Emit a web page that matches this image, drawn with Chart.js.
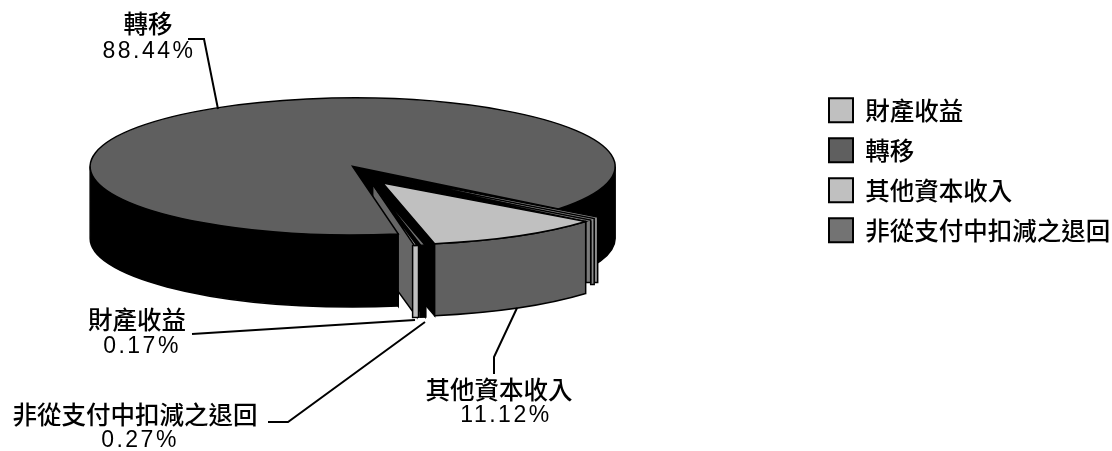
<!DOCTYPE html>
<html>
<head>
<meta charset="utf-8">
<style>
  html, body { margin: 0; padding: 0; background: #fff; overflow: hidden; }
  #wrap { position: relative; width: 1112px; height: 451px; }
</style>
<script src="https://cdn.jsdelivr.net/npm/chart.js@4"></script>
</head>
<body>
<div id="wrap"><canvas id="pie3d"></canvas></div>
<script>
// Revenue shares, in percent
const categories = ['財產收益', '轉移', '其他資本收入', '非從支付中扣減之退回'];
const shareValues = [0.17, 88.44, 11.12, 0.27];

// Slice colours: top face, outer wall, radial walls
const topColors = ['#c0c0c0', '#5f5f5f', '#c0c0c0', '#737373'];
const wallColors = ['#c0c0c0', '#000000', '#606060', '#000000'];
const cutColors = ['#666666', '#000000', '#000000', '#000000'];

// Projection of the flat pie on the page
const CENTER_X = 367.5, CENTER_Y = 174.8;
const EXPLODE_X = 29, EXPLODE_Y = 9.7;
const DEPTH = 72;
const MIN_RIM = 6;
const radiusX = [240, 262.5, 259, 259];
const radiusY = [62, 68.5, 62, 62];

const LATIN = '"Liberation Sans", Arial, sans-serif';
const CJK = '"Noto Sans CJK TC", sans-serif';
const LEGEND_BOX_X = 829;

// Text blocks and leader lines: [name x, name y, value x, value y], then the polyline
const callouts = [
    { index: 1, at: [148, 24, 149, 52], line: [[188, 39], [204, 39], [218, 109]] },
    { index: 0, at: [137, 320, 142, 347], line: [[192, 334], [415, 320]] },
    { index: 3, at: [135, 415, 140, 441], line: [[268, 422], [288, 422], [425, 322]] },
    { index: 2, at: [499, 390, 506, 416], line: [[494, 374], [494, 357], [517, 308]] }
];

function sliceGeometry(el, i) {
    const mid = (el.startAngle + el.endAngle) / 2;
    return {
        cx: CENTER_X + EXPLODE_X * Math.cos(mid),
        cy: CENTER_Y + EXPLODE_Y * Math.sin(mid),
        rx: radiusX[i],
        ry: radiusY[i],
        a0: el.startAngle,
        a1: el.endAngle
    };
}

function rimPoint(g, a) {
    return [g.cx + g.rx * Math.cos(a), g.cy + g.ry * Math.sin(a)];
}

// Radial cut wall, from the apex out to the rim at angle a
function drawCut(ctx, g, a, color) {
    const p = rimPoint(g, a);
    ctx.beginPath();
    ctx.moveTo(g.cx, g.cy);
    ctx.lineTo(p[0], p[1]);
    ctx.lineTo(p[0], p[1] + DEPTH);
    ctx.lineTo(g.cx, g.cy + DEPTH);
    ctx.closePath();
    ctx.fillStyle = color;
    ctx.fill();
    ctx.stroke();
}

// Outer wall, only for the part of the rim facing the viewer.
// Very thin slices keep a minimum rim width so they stay visible.
function drawWall(ctx, g, color) {
    const pad = Math.max(0, MIN_RIM / g.rx - (g.a1 - g.a0)) / 2;
    const a0 = g.a0 - pad, a1 = g.a1 + pad;
    for (let k = 0; k < 2; k++) {
        const from = Math.max(a0, k * 2 * Math.PI);
        const to = Math.min(a1, k * 2 * Math.PI + Math.PI);
        if (to <= from) continue;
        ctx.beginPath();
        ctx.ellipse(g.cx, g.cy, g.rx, g.ry, 0, from, to);
        ctx.ellipse(g.cx, g.cy + DEPTH, g.rx, g.ry, 0, to, from, true);
        ctx.closePath();
        ctx.fillStyle = color;
        ctx.fill();
        ctx.stroke();
    }
}

// Top face: the library arc under a squashing transform, outline added afterwards
function drawTop(ctx, chart, el, g) {
    const r = el.outerRadius;
    ctx.save();
    ctx.translate(g.cx, g.cy);
    ctx.scale(g.rx / r, g.ry / r);
    ctx.translate(-el.x, -el.y);
    el.draw(ctx, chart.chartArea);
    ctx.restore();
    ctx.beginPath();
    ctx.moveTo(g.cx, g.cy);
    ctx.ellipse(g.cx, g.cy, g.rx, g.ry, 0, g.a0, g.a1);
    ctx.closePath();
    ctx.stroke();
}

// Thin sheets standing behind the right edge of the capital slice
function drawSheets(ctx, g) {
    const p = rimPoint(g, g.a0);
    const widths = [5, 3.5, 3.5];
    const fills = ['#7a7a7a', '#8c8c8c', '#8c8c8c'];
    const drops = [11, 9, 11];
    for (let i = widths.length - 1; i >= 0; i--) {
        const left = p[0] + widths.slice(0, i).reduce((s, w) => s + w, 0);
        const lift = 1.5 * (i + 1);
        ctx.beginPath();
        ctx.moveTo(g.cx + 3 + 2 * i, g.cy - 2 - lift);
        ctx.lineTo(left + widths[i], p[1] - lift);
        ctx.lineTo(left + widths[i], p[1] + DEPTH - drops[i]);
        ctx.lineTo(left, p[1] + DEPTH - drops[i]);
        ctx.lineTo(left, p[1]);
        ctx.closePath();
        ctx.fillStyle = fills[i];
        ctx.fill();
        ctx.stroke();
    }
}

const pie3d = {
    id: 'pie3d',
    beforeDraw(chart) {
        // pin the legend column, its labels run close to the page edge
        chart.legend.left = LEGEND_BOX_X - chart.legend.options.labels.padding;
    },
    beforeDatasetsDraw(chart) {
        const ctx = chart.ctx;
        const arcs = chart.getDatasetMeta(0).data;
        const geo = arcs.map((el, i) => sliceGeometry(el, i));

        ctx.save();
        ctx.strokeStyle = '#000';
        ctx.lineWidth = 1.5;
        ctx.lineJoin = 'miter';

        // back to front: every radial cut first, then the big slice, then the small ones
        drawCut(ctx, geo[1], geo[1].a1, cutColors[1]);
        drawCut(ctx, geo[1], geo[1].a0, cutColors[1]);
        drawCut(ctx, geo[2], geo[2].a1, cutColors[2]);
        drawCut(ctx, geo[3], geo[3].a0, cutColors[3]);
        drawCut(ctx, geo[0], geo[0].a0, cutColors[0]);
        drawWall(ctx, geo[1], wallColors[1]);
        drawTop(ctx, chart, arcs[1], geo[1]);

        drawWall(ctx, geo[3], wallColors[3]);
        drawTop(ctx, chart, arcs[3], geo[3]);
        drawWall(ctx, geo[0], wallColors[0]);
        drawTop(ctx, chart, arcs[0], geo[0]);

        drawSheets(ctx, geo[2]);
        drawWall(ctx, geo[2], wallColors[2]);
        drawTop(ctx, chart, arcs[2], geo[2]);
        ctx.restore();
        return false;
    },
    afterDraw(chart) {
        const ctx = chart.ctx;
        ctx.save();
        ctx.strokeStyle = '#000';
        ctx.lineWidth = 2;
        ctx.fillStyle = '#000';
        ctx.textAlign = 'center';
        ctx.textBaseline = 'middle';
        callouts.forEach(c => {
            ctx.beginPath();
            c.line.forEach((p, i) => i ? ctx.lineTo(p[0], p[1]) : ctx.moveTo(p[0], p[1]));
            ctx.stroke();
            ctx.letterSpacing = '0px';
            ctx.font = '500 24.5px ' + CJK;
            ctx.fillText(categories[c.index], c.at[0], c.at[1]);
            ctx.letterSpacing = '2.5px';
            ctx.font = '23px ' + LATIN;
            ctx.fillText(shareValues[c.index].toFixed(2) + '%', c.at[2], c.at[3]);
        });
        ctx.restore();
    }
};

new Chart(document.getElementById('pie3d'), {
    type: 'pie',
    data: {
        labels: categories,
        datasets: [{
            data: shareValues,
            backgroundColor: topColors,
            borderWidth: 0
        }]
    },
    plugins: [pie3d],
    options: {
        responsive: true,
        maintainAspectRatio: false,
        animation: false,
        rotation: 169.4,
        layout: { padding: { top: 82.5, right: 2 } },
        plugins: {
            tooltip: { enabled: false },
            legend: {
                position: 'right',
                align: 'start',
                labels: {
                    boxWidth: 24,
                    boxHeight: 24,
                    padding: 15.5,
                    color: '#000',
                    font: { family: CJK, size: 24.5, weight: '500' },
                    generateLabels(chart) {
                        const items = Chart.overrides.pie.plugins.legend.labels.generateLabels(chart);
                        items.forEach(it => {
                            it.strokeStyle = '#000';
                            it.lineWidth = 2;
                        });
                        return items;
                    }
                }
            }
        }
    }
});
</script>
</body>
</html>
